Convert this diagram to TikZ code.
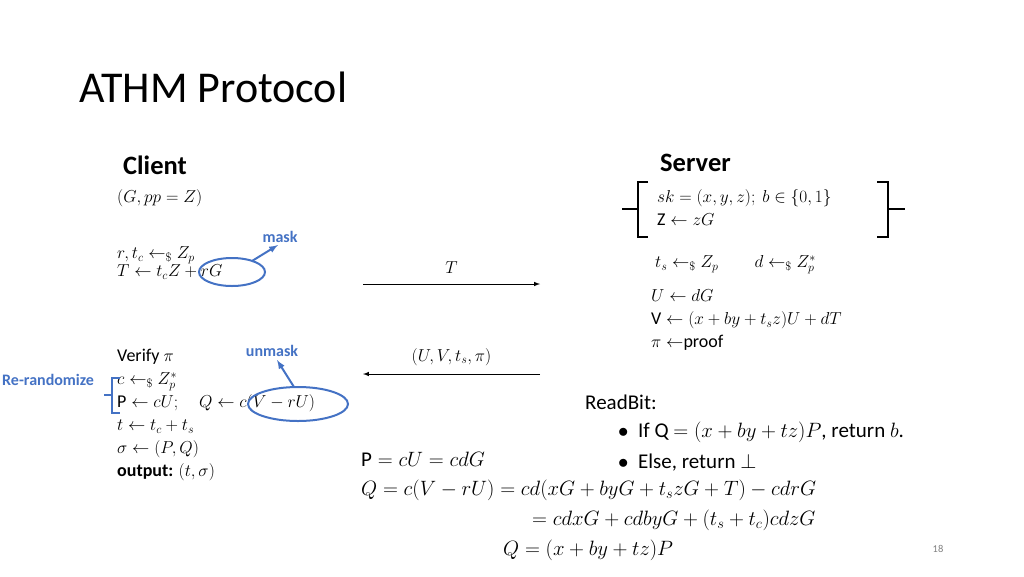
\documentclass[tikz,border=0pt]{standalone}
\usepackage{fontspec}
\setmainfont{Carlito}
\usepackage{amsmath,amssymb}
\begin{document}
\begin{tikzpicture}[x=1pt,y=-1pt,
  txt/.style={anchor=west,inner sep=0pt,font=\fontsize{18pt}{23pt}\selectfont,align=left},
  big/.style={anchor=west,inner sep=0pt,font=\fontsize{21pt}{26pt}\selectfont,align=left},
  blu/.style={anchor=center,inner sep=0pt,font=\fontsize{16pt}{18pt}\selectfont\bfseries,text=bluec},
  hd/.style={anchor=west,inner sep=0pt,font=\fontsize{26.5pt}{30pt}\selectfont\bfseries},
  rbs/.style={txt,font=\fontsize{21pt}{24pt}\selectfont},
  bl/.style={draw=bluec,line width=2pt},
  bk/.style={draw=black,line width=2pt}]
\definecolor{bluec}{RGB}{68,114,196}
\useasboundingbox (0,0) rectangle (1024,576);
\node[anchor=west,inner sep=0pt,font=\fontsize{44pt}{48pt}\selectfont] (title) at (79,87) {ATHM Protocol};
\node[hd] (client) at (123,165) {Client};
\node[hd] (server) at (660,163) {Server};
\node[txt] (c1) at (117,198) {$(G,pp=Z)$};
\node[txt,font=\fontsize{18pt}{18pt}\selectfont] (c2) at (117,263) {$r,t_c \leftarrow_{\$} Z_p$\\$T\leftarrow t_cZ+rG$};
\node[txt] (c3) at (117,415) {Verify $\pi$\\$c\leftarrow_{\$} Z_p^*$\\$\mathrm{P}\leftarrow cU;\quad Q\leftarrow c(V-rU)$\\$t\leftarrow t_c+t_s$\\$\sigma\leftarrow(P,Q)$\\\textbf{output:} $(t,\sigma)$};
\node[blu] (mask) at (280,237) {mask};
\node[blu] (unmask) at (272,351) {unmask};
\node[blu,anchor=west] (rr) at (2,380) {Re-randomize};
\draw[bl] (232,272) ellipse (33 and 14);
\draw[bl,-latex] (252,261) -- (278,245);
\draw[bl] (298,404) ellipse (50 and 17);
\draw[bl,-latex] (294,387) -- (277,360);
\draw[bl] (120,378) -- (112,378) -- (112,413) -- (120,413);
\draw[bl] (112,395) -- (104,395);
% server
\node[txt] (s1) at (657,208) {$sk=(x,y,z);\ b\in\{0,1\}$\\$\mathrm{Z}\leftarrow zG$};
\draw[bk] (648,182) -- (638,182) -- (638,237) -- (648,237);
\draw[bk] (638,209) -- (622,209);
\draw[bk] (877,182) -- (888,182) -- (888,237) -- (877,237);
\draw[bk] (888,209) -- (905,209);
\node[txt] (s2) at (655,265) {$t_s\leftarrow_{\$} Z_p\qquad d\leftarrow_{\$} Z_p^*$};
\node[txt] (s3) at (651,320) {$U\leftarrow dG$\\$\mathrm{V}\leftarrow(x+by+t_sz)U+dT$\\$\pi\leftarrow$proof};
% messages
\coordinate (a1) at (363,284); \coordinate (a2) at (540,284);
\draw[-latex,line width=1pt] (a1) -- (a2) node[midway,above=10pt,txt,anchor=south] (tl) {$T$};
\coordinate (b1) at (540,374); \coordinate (b2) at (363,374);
\draw[-latex,line width=1pt] (b1) -- (b2) node[midway,above=8pt,txt,anchor=south] (ul) {$(U,V,t_s,\pi)$};
% readbit
\node[rbs] (rb) at (585,402) {ReadBit:};
\node[rbs] (rb1) at (618,432) {$\bullet$\ \ If Q $=(x+by+tz)P$, return $b$.};
\node[rbs] (rb2) at (618,463) {$\bullet$\ \ Else, return $\perp$};
% equations
\node[big] (e1) at (361,459) {$\mathrm{P}=cU=cdG$};
\node[big] (e2) at (361,490) {$Q=c(V-rU)=cd(xG+byG+t_szG+T)-cdrG$};
\node[big] (e3) at (532,520) {$=cdxG+cdbyG+(t_s+t_c)cdzG$};
\node[big] (e4) at (503,550) {$Q=(x+by+tz)P$};
\node[anchor=center,inner sep=0pt,font=\fontsize{10.5pt}{11pt}\selectfont,text=gray] (pg) at (938,549) {18};
\end{tikzpicture}
\end{document}
